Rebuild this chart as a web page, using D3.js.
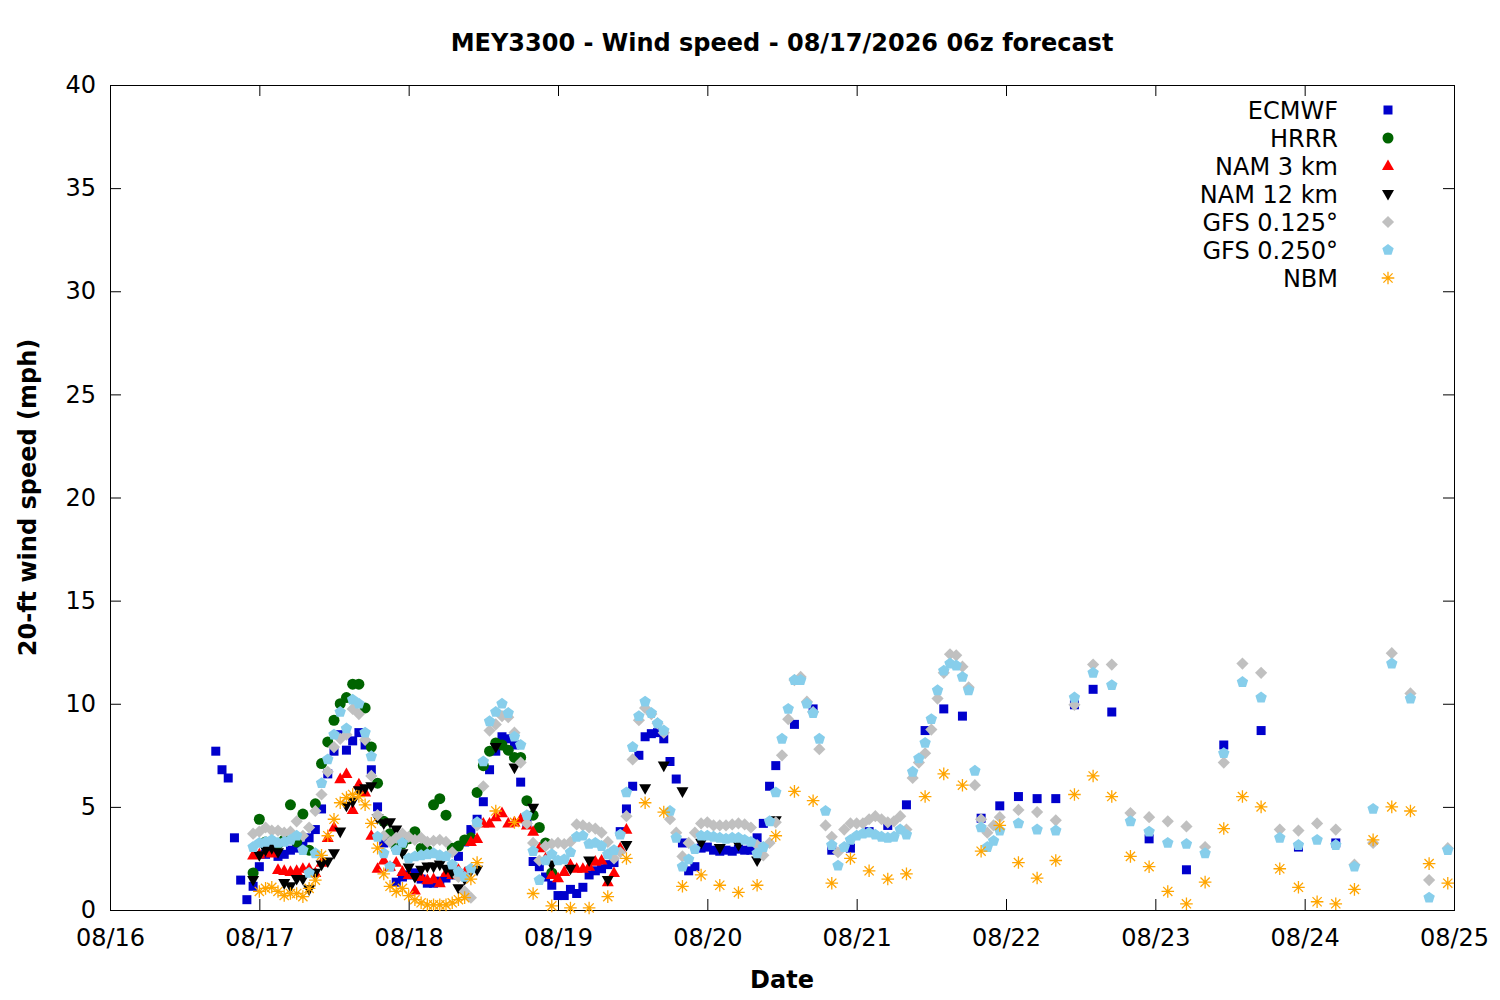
<!DOCTYPE html>
<html>
<head>
<meta charset="utf-8">
<script src="https://cdn.jsdelivr.net/npm/d3@7"></script>
<style>
  body { margin: 0; background: #fff; }
  svg { display: block; font-family: "DejaVu Sans", sans-serif; }
</style>
</head>
<body>
<svg id="chart" width="1500" height="1000"></svg>
<script>
// hours are counted from 08/16 00:00 (local), values in mph
const ecmwf = [[17,7.7],[18,6.8],[19,6.4],[20,3.5],[21,1.45],[22,0.5],[23,1.15],[24,2.1],[25,2.7],[26,2.8],[27,2.6],[28,2.7],[29,2.9],[30,3.0],[31,3.1],[32,3.5],[33,3.9],[34,4.9],[35,6.6],[36,7.7],[37,8.5],[38,7.75],[39,8.2],[40,8.6],[41,8.0],[42,6.8],[43,5.0],[44,3.25],[45,2.1],[46,1.35],[47,1.6],[48,1.7],[49,1.8],[50,1.5],[51,1.3],[52,1.3],[53,1.4],[54,1.55],[55,1.7],[56,2.6],[57,3.3],[58,3.9],[59,4.4],[60,5.25],[61,6.8],[62,7.7],[63,8.4],[64,8.3],[65,8.0],[66,6.2],[67,4.2],[68,2.35],[69,2.1],[70,1.6],[71,1.2],[72,0.7],[73,0.7],[74,1.0],[75,0.8],[76,1.1],[77,1.7],[78,1.9],[79,2.0],[80,2.2],[81,2.3],[82,3.8],[83,4.9],[84,6.0],[85,7.5],[86,8.4],[87,8.55],[88,8.6],[89,8.3],[90,7.2],[91,6.35],[92,3.25],[93,1.9],[94,2.1],[95,3.0],[96,3.05],[97,2.9],[98,2.85],[99,2.9],[100,2.85],[101,2.95],[102,2.9],[103,2.9],[104,3.5],[105,4.2],[106,6.0],[107,7.0],[110,9.0],[113,9.75],[116,2.9],[119,3.0],[122,3.8],[125,4.1],[128,5.1],[131,8.7],[134,9.75],[137,9.4],[140,4.45],[143,5.05],[146,5.5],[149,5.4],[152,5.4],[155,9.95],[158,10.7],[161,9.6],[167,3.45],[173,1.95],[179,8.0],[185,8.7],[191,3.05],[197,3.25]];

const hrrr = [[23,1.8],[24,4.4],[25,3.3],[26,3.1],[27,3.2],[28,3.4],[29,5.1],[30,3.3],[31,4.65],[32,2.9],[33,5.15],[34,7.1],[35,8.15],[36,9.2],[37,10.0],[38,10.3],[39,10.95],[40,10.95],[41,9.8],[42,7.9],[43,6.15],[44,4.3],[45,3.7],[46,3.0],[47,3.2],[48,3.45],[49,3.8],[50,3.0],[51,2.9],[52,5.1],[53,5.4],[54,4.6],[55,3.0],[56,3.1],[57,3.4],[58,3.5],[59,5.7],[60,7.0],[61,7.7],[62,8.1],[63,8.0],[64,7.75],[65,7.4],[66,7.4],[67,5.3],[68,4.6],[69,4.0],[70,3.25],[71,1.8]];

const nam3 = [[23,2.65],[24,2.7],[25,2.8],[26,2.75],[27,1.95],[28,1.9],[29,1.85],[30,1.9],[31,2.0],[32,2.0],[33,1.8],[34,2.3],[35,3.5],[36,4.0],[37,6.35],[38,6.6],[39,4.85],[40,6.1],[41,5.7],[42,3.6],[43,2.0],[44,2.4],[45,2.1],[46,2.3],[47,1.85],[48,1.7],[49,0.95],[50,1.6],[51,1.45],[52,1.5],[53,1.3],[54,1.8],[55,1.7],[56,1.95],[57,1.8],[58,3.3],[59,3.45],[60,4.2],[61,4.2],[62,4.5],[63,4.7],[64,4.2],[65,4.25],[66,4.4],[67,4.1],[68,3.8],[69,3.0],[70,2.5],[71,1.7],[72,1.55],[73,1.85],[74,2.2],[75,2.0],[76,2.0],[77,2.1],[78,2.35],[79,2.4],[80,1.35],[81,1.8],[82,3.0],[83,3.9]];

const nam12 = [[23,1.45],[24,2.65],[25,2.9],[26,3.0],[27,2.8],[28,1.3],[29,1.15],[30,1.5],[31,1.5],[32,1.0],[33,1.8],[34,2.2],[35,2.35],[36,2.75],[37,3.8],[38,5.05],[39,5.25],[40,5.8],[41,5.9],[42,6.0],[43,4.45],[44,4.2],[45,4.25],[46,3.9],[47,2.75],[48,2.05],[49,1.6],[50,1.95],[51,2.1],[52,2.1],[53,2.2],[54,2.0],[55,1.8],[56,1.05],[57,1.5],[58,1.9],[59,1.95],[62,7.9],[65,6.9],[68,4.95],[71,2.2],[74,2.0],[77,2.4],[80,1.45],[83,3.15],[86,5.9],[89,7.0],[92,5.75],[95,3.25],[98,3.0],[101,3.15],[104,2.4],[107,4.35]];

const gfs0125 = [[23,3.7],[24,3.8],[25,4.0],[26,3.85],[27,3.85],[28,3.75],[29,3.8],[30,4.3],[31,3.6],[32,4.0],[33,4.8],[34,5.6],[35,6.7],[36,7.9],[37,8.3],[38,8.5],[39,9.75],[40,9.5],[41,8.25],[42,6.5],[43,4.6],[44,3.6],[45,3.3],[46,3.5],[47,3.7],[48,3.55],[49,3.4],[50,3.5],[51,3.3],[52,3.35],[53,3.4],[54,3.3],[55,2.8],[56,1.6],[57,0.9],[58,0.6],[59,4.1],[60,6.0],[61,8.7],[62,9.0],[63,9.4],[64,9.35],[65,8.6],[66,7.15],[67,4.2],[68,3.25],[69,2.4],[70,3.1],[71,3.2],[72,3.25],[73,3.2],[74,3.3],[75,4.15],[76,4.1],[77,4.0],[78,3.95],[79,3.75],[80,3.3],[81,2.5],[82,2.8],[83,4.55],[84,7.3],[85,9.2],[86,9.8],[87,9.5],[88,9.05],[89,8.6],[90,4.4],[91,3.75],[92,2.6],[93,3.25],[94,3.75],[95,4.2],[96,4.25],[97,4.1],[98,4.1],[99,4.1],[100,4.15],[101,4.2],[102,4.15],[103,4.0],[104,3.15],[105,2.65],[106,3.25],[107,4.25],[108,7.5],[109,9.25],[110,11.15],[111,11.3],[112,10.1],[113,9.6],[114,7.8],[115,4.1],[116,3.55],[117,2.8],[118,3.9],[119,4.2],[120,4.2],[121,4.2],[122,4.4],[123,4.55],[124,4.4],[125,4.25],[126,4.3],[127,4.55],[128,3.9],[129,6.4],[130,7.15],[131,7.6],[132,8.75],[133,10.25],[134,11.5],[135,12.4],[136,12.35],[137,11.8],[138,10.8],[139,6.05],[140,4.4],[141,3.75],[142,4.1],[143,4.5],[146,4.85],[149,4.75],[152,4.35],[155,9.95],[158,11.9],[161,11.9],[164,4.7],[167,4.5],[170,4.3],[173,4.05],[176,3.05],[179,7.15],[182,11.95],[185,11.5],[188,3.9],[191,3.85],[194,4.2],[197,3.9],[200,2.2],[203,3.25],[206,12.45],[209,10.5],[212,1.45],[215,3.0]];

const gfs0250 = [[23,3.05],[24,3.25],[25,3.3],[26,3.4],[27,3.25],[28,3.3],[29,3.4],[30,3.6],[31,2.9],[32,1.8],[33,2.75],[34,6.15],[35,7.3],[36,8.5],[37,9.6],[38,8.8],[39,10.2],[40,10.0],[41,8.6],[42,7.45],[43,3.55],[44,2.75],[45,2.1],[46,2.9],[47,3.25],[48,2.5],[49,2.6],[50,2.65],[51,2.7],[52,2.75],[53,2.65],[54,2.6],[55,2.2],[56,1.85],[57,1.6],[58,2.0],[59,4.25],[60,7.2],[61,9.15],[62,9.6],[63,10.0],[64,9.55],[65,8.4],[66,8.0],[67,4.6],[68,2.85],[69,1.45],[70,2.4],[71,2.7],[72,2.4],[73,2.45],[74,2.8],[75,3.55],[76,3.6],[77,3.2],[78,3.25],[79,3.1],[80,2.7],[81,2.9],[82,3.65],[83,5.7],[84,7.9],[85,9.4],[86,10.1],[87,9.55],[88,9.05],[89,8.7],[90,4.8],[91,3.5],[92,2.1],[93,2.45],[94,2.95],[95,3.6],[96,3.6],[97,3.55],[98,3.5],[99,3.45],[100,3.5],[101,3.5],[102,3.4],[103,3.3],[104,2.75],[105,3.05],[106,4.3],[107,5.7],[108,8.3],[109,9.75],[110,11.15],[111,11.15],[112,10.0],[113,9.55],[114,8.3],[115,4.8],[116,3.15],[117,2.15],[118,3.05],[119,3.4],[120,3.6],[121,3.7],[122,3.75],[123,3.65],[124,3.55],[125,3.5],[126,3.55],[127,3.9],[128,3.65],[129,6.7],[130,7.35],[131,8.1],[132,9.25],[133,10.65],[134,11.6],[135,11.95],[136,11.85],[137,11.3],[138,10.65],[139,6.75],[140,4.0],[141,3.05],[142,3.35],[143,3.85],[146,4.2],[149,3.9],[152,3.85],[155,10.3],[158,11.5],[161,10.9],[164,4.3],[167,3.8],[170,3.25],[173,3.2],[176,2.75],[179,7.6],[182,11.05],[185,10.3],[188,3.5],[191,3.15],[194,3.4],[197,3.15],[200,2.1],[203,4.9],[206,11.95],[209,10.25],[212,0.6],[215,2.9]];

const nbm = [[24,0.9],[25,1.05],[26,1.1],[27,0.9],[28,0.7],[29,0.8],[30,0.8],[31,0.65],[32,1.05],[33,1.45],[34,2.65],[35,3.6],[36,4.4],[37,5.2],[38,5.45],[39,5.6],[40,5.5],[41,5.1],[42,4.2],[43,3.0],[44,1.75],[45,1.15],[46,0.9],[47,1.05],[48,0.7],[49,0.5],[50,0.35],[51,0.25],[52,0.25],[53,0.25],[54,0.25],[55,0.35],[56,0.5],[57,0.6],[58,1.5],[59,2.3],[62,4.8],[65,4.25],[68,0.8],[71,0.2],[74,0.1],[77,0.1],[80,0.65],[83,2.5],[86,5.2],[89,4.75],[92,1.15],[95,1.7],[98,1.2],[101,0.85],[104,1.2],[107,3.6],[110,5.75],[113,5.3],[116,1.3],[119,2.5],[122,1.9],[125,1.5],[128,1.75],[131,5.5],[134,6.6],[137,6.05],[140,2.85],[143,4.1],[146,2.3],[149,1.55],[152,2.4],[155,5.6],[158,6.5],[161,5.5],[164,2.6],[167,2.1],[170,0.9],[173,0.3],[176,1.35],[179,3.95],[182,5.5],[185,5.0],[188,2.0],[191,1.1],[194,0.4],[197,0.3],[200,1.0],[203,3.4],[206,5.0],[209,4.8],[212,2.25],[215,1.3]];

const seriesNames = ["ECMWF", "HRRR", "NAM 3 km", "NAM 12 km", "GFS 0.125\u00b0", "GFS 0.250\u00b0", "NBM"];
const yTicks = [0, 5, 10, 15, 20, 25, 30, 35, 40];

// marker shapes like gnuplot point types 5, 7, 9, 11, 13, 15, 3
const shapeSquare = { draw(c) { c.rect(-4.5, -4.5, 9, 9); } };
const shapeCircle = { draw(c) { c.moveTo(5.5, 0); c.arc(0, 0, 5.5, 0, 2 * Math.PI); } };
const shapeUp = { draw(c) { c.moveTo(0, -6.5); c.lineTo(6, 4.1); c.lineTo(-6, 4.1); c.closePath(); } };
const shapeDown = { draw(c) { c.moveTo(0, 6.5); c.lineTo(6, -4.1); c.lineTo(-6, -4.1); c.closePath(); } };
const shapeDiamond = { draw(c) { c.moveTo(0, -6.1); c.lineTo(6.1, 0); c.lineTo(0, 6.1); c.lineTo(-6.1, 0); c.closePath(); } };
const shapePentagon = {
  draw(c) {
    for (let i = 0; i < 5; i++) {
      const a = -Math.PI / 2 + i * 2 * Math.PI / 5;
      if (i == 0) c.moveTo(6 * Math.cos(a), 6 * Math.sin(a));
      else c.lineTo(6 * Math.cos(a), 6 * Math.sin(a));
    }
    c.closePath();
  }
};
const shapeStar = {
  draw(c) {
    c.moveTo(-6.3, 0); c.lineTo(6.3, 0);
    c.moveTo(0, -6.3); c.lineTo(0, 6.3);
    c.moveTo(-4.6, -4.6); c.lineTo(4.6, 4.6);
    c.moveTo(-4.6, 4.6); c.lineTo(4.6, -4.6);
  }
};

const series = [
  { data: ecmwf, color: "#0000cc", shape: shapeSquare, stroke: false },
  { data: hrrr, color: "#006400", shape: shapeCircle, stroke: false },
  { data: nam3, color: "#ff0000", shape: shapeUp, stroke: false },
  { data: nam12, color: "#000000", shape: shapeDown, stroke: false },
  { data: gfs0125, color: "#c0c0c0", shape: shapeDiamond, stroke: false },
  { data: gfs0250, color: "#87ceeb", shape: shapePentagon, stroke: false },
  { data: nbm, color: "#ffa500", shape: shapeStar, stroke: true },
];

const svg = d3.select("#chart");
const plotLeft = 110, plotRight = 1454, plotTop = 85, plotBottom = 910;
const fontSize = 24;

const baseTime = Date.UTC(2026, 7, 16);
const toDate = (h) => new Date(baseTime + h * 3600 * 1000);

const x = d3.scaleUtc()
  .domain([new Date(Date.UTC(2026, 7, 16)), new Date(Date.UTC(2026, 7, 25))])
  .range([plotLeft, plotRight]);
const y = d3.scaleLinear().domain([0, 40]).range([plotBottom, plotTop]);

const dayTicks = x.ticks(d3.utcDay.every(1));

// bottom axis with labels, ticks pointing inward
const xAxis = svg.append("g")
  .attr("transform", `translate(0,${plotBottom})`)
  .call(d3.axisBottom(x).tickValues(dayTicks).tickFormat(d3.utcFormat("%m/%d"))
    .tickSizeInner(-11).tickSizeOuter(0).tickPadding(19));
const yAxis = svg.append("g")
  .attr("transform", `translate(${plotLeft},0)`)
  .call(d3.axisLeft(y).tickValues(yTicks).tickSizeInner(-11).tickSizeOuter(0).tickPadding(14));
// mirror ticks
const xTop = svg.append("g")
  .attr("transform", `translate(0,${plotTop})`)
  .call(d3.axisTop(x).tickValues(dayTicks).tickFormat("").tickSizeInner(-11).tickSizeOuter(0));
const yRight = svg.append("g")
  .attr("transform", `translate(${plotRight},0)`)
  .call(d3.axisRight(y).tickValues(yTicks).tickFormat("").tickSizeInner(-11).tickSizeOuter(0));

[xAxis, yAxis, xTop, yRight].forEach((g) => {
  g.select(".domain").remove();
  g.selectAll(".tick line").attr("stroke", "#000").attr("stroke-width", 1);
  g.selectAll(".tick text")
    .attr("fill", "#000")
    .style("font-family", '"DejaVu Sans", sans-serif')
    .style("font-size", fontSize + "px");
});

svg.append("rect")
  .attr("x", plotLeft + 0.5).attr("y", plotTop + 0.5)
  .attr("width", plotRight - plotLeft).attr("height", plotBottom - plotTop)
  .attr("fill", "none").attr("stroke", "#000").attr("stroke-width", 1);

// points
series.forEach((s) => {
  const sym = d3.symbol().type(s.shape);
  svg.append("g")
    .selectAll("path")
    .data(s.data)
    .enter()
    .append("path")
    .attr("d", sym)
    .attr("transform", (d) => `translate(${x(toDate(d[0]))},${y(d[1])})`)
    .attr("fill", s.stroke ? "none" : s.color)
    .attr("stroke", s.stroke ? s.color : "none")
    .attr("stroke-width", s.stroke ? 1.3 : 0);
});

// legend
const legend = svg.append("g");
seriesNames.forEach((name, i) => {
  const cy = 110 + i * 28;
  legend.append("text")
    .attr("x", 1338).attr("y", cy + 8.6)
    .attr("text-anchor", "end")
    .style("font-size", fontSize + "px")
    .text(name);
  const s = series[i];
  legend.append("path")
    .attr("d", d3.symbol().type(s.shape)())
    .attr("transform", `translate(1388,${cy})`)
    .attr("fill", s.stroke ? "none" : s.color)
    .attr("stroke", s.stroke ? s.color : "none")
    .attr("stroke-width", s.stroke ? 1.3 : 0);
});

// titles
svg.append("text")
  .attr("x", (plotLeft + plotRight) / 2).attr("y", 51)
  .attr("text-anchor", "middle")
  .style("font-size", fontSize + "px").style("font-weight", "bold")
  .text("MEY3300 - Wind speed - 08/17/2026 06z forecast");

svg.append("text")
  .attr("x", (plotLeft + plotRight) / 2).attr("y", 988)
  .attr("text-anchor", "middle")
  .style("font-size", fontSize + "px").style("font-weight", "bold")
  .text("Date");

svg.append("text")
  .attr("transform", `translate(36,${(plotTop + plotBottom) / 2}) rotate(-90)`)
  .attr("text-anchor", "middle")
  .style("font-size", fontSize + "px").style("font-weight", "bold")
  .text("20-ft wind speed (mph)");
</script>
</body>
</html>
